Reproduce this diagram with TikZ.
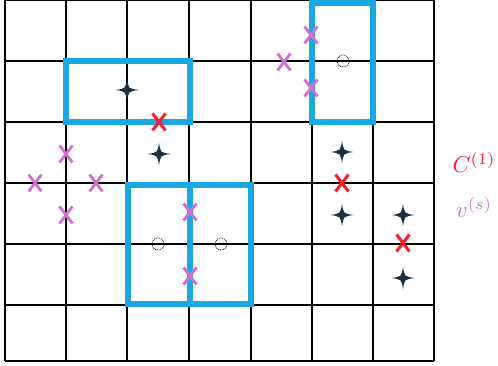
\documentclass[tikz,border=0pt]{standalone}
\usepackage{amsmath}
\definecolor{boxblue}{HTML}{1BA8E2}
\definecolor{xred}{HTML}{FF1A2E}
\definecolor{xpink}{HTML}{D070D0}
\definecolor{starc}{HTML}{1B2F40}
\tikzset{
  gridline/.style={black, line width=1.2pt},
  bluebox/.style={draw=boxblue, line width=6pt},
  star4/.pic={\fill[starc] (0,-11.5) .. controls (1.4,-1.4) .. (11.5,0) .. controls (1.4,1.4) .. (0,11.5) .. controls (-1.4,1.4) .. (-11.5,0) .. controls (-1.4,-1.4) .. (0,-11.5);},
  redx/.pic={\draw[xred, line width=3pt] (-6.5,-8.5) -- (6.5,8.5) (-6.5,8.5) -- (6.5,-8.5);},
  pinkx/.pic={\draw[xpink, line width=2.8pt] (-6.5,-8.5) -- (6.5,8.5) (-6.5,8.5) -- (6.5,-8.5);},
  dotcirc/.style={draw=black, densely dotted, line width=0.8pt, circle, minimum size=12pt, inner sep=0pt},
  lab/.style={scale=2.3, inner sep=0pt}
}
\begin{document}
\begin{tikzpicture}[x=1pt,y=-1pt]
\useasboundingbox (0,0) rectangle (498,366);
% grid
\foreach \x in {5,66,127,189,251,312,373,434} {\draw[gridline] (\x,0) -- (\x,361);}
\foreach \y in {0.5,61,122,183,244,305,361} {\draw[gridline] (5,\y) -- (434,\y);}
% blue boxes
\node[bluebox, rectangle, minimum width=124pt, minimum height=61pt, inner sep=0pt] (b1) at (128,91.5) {};
\node[bluebox, rectangle, minimum width=61pt, minimum height=119pt, inner sep=0pt] (b2) at (342.5,62.5) {};
\node[bluebox, rectangle, minimum width=62pt, minimum height=119pt, inner sep=0pt] (b3) at (159,244.5) {};
\node[bluebox, rectangle, minimum width=61pt, minimum height=119pt, inner sep=0pt] (b4) at (220,244.5) {};
% dotted circles
\node[dotcirc] (o1) at (343,61) {};
\node[dotcirc] (o2) at (158,244) {};
\node[dotcirc] (o3) at (221,244) {};
% stars
\pic at (127,90) {star4};
\pic at (159,154) {star4};
\pic at (342,152) {star4};
\pic at (342,215) {star4};
\pic at (403,215) {star4};
\pic at (403,278) {star4};
% red crosses
\pic at (159,122) {redx};
\pic at (342,183) {redx};
\pic at (403,243) {redx};
% pink crosses
\pic at (311,35) {pinkx};
\pic at (284,62) {pinkx};
\pic at (311,88) {pinkx};
\pic at (66,154) {pinkx};
\pic at (35,183) {pinkx};
\pic at (96,183) {pinkx};
\pic at (66,215) {pinkx};
\pic at (190,212) {pinkx};
\pic at (190,276) {pinkx};
% labels
\node[lab, text=xred, anchor=base] (c1) at (474,173) {$C^{(1)}$};
\node[lab, text=xpink, anchor=base] (vs) at (474,218) {$v^{(s)}$};
\end{tikzpicture}
\end{document}
